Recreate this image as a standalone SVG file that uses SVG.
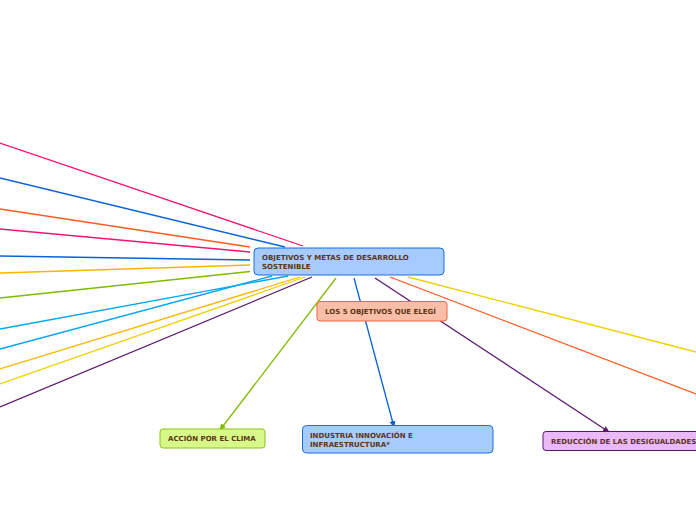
<svg xmlns="http://www.w3.org/2000/svg" width="696" height="520" viewBox="0 0 696 520">
<style>
.c{fill:none;stroke-width:1.3}
.t{font-family:"DejaVu Sans","Verdana",sans-serif;font-weight:bold;font-size:7px;fill:#5c3512}
</style>
<defs>
<marker id="ag" markerWidth="7" markerHeight="7" refX="6" refY="3.5" orient="auto" markerUnits="userSpaceOnUse"><path d="M0,0.5 L7,3.5 L0,6.5 z" fill="#7fba00"/></marker>
<marker id="ab" markerWidth="7" markerHeight="7" refX="6" refY="3.5" orient="auto" markerUnits="userSpaceOnUse"><path d="M0,0.5 L7,3.5 L0,6.5 z" fill="#0a62d6"/></marker>
<marker id="ap" markerWidth="7" markerHeight="7" refX="6" refY="3.5" orient="auto" markerUnits="userSpaceOnUse"><path d="M0,0.5 L7,3.5 L0,6.5 z" fill="#5a1670"/></marker>
</defs>
<rect width="696" height="520" fill="#fff"/>
<g id="connectors">
<line class="c" x1="0" y1="143" x2="303" y2="246" stroke="#f5136f"/>
<line class="c" x1="0" y1="178" x2="285" y2="247" stroke="#0a62d6"/>
<line class="c" x1="0" y1="209" x2="250" y2="247" stroke="#ff5a1f"/>
<line class="c" x1="0" y1="229" x2="250" y2="252" stroke="#f5136f"/>
<line class="c" x1="0" y1="256" x2="250" y2="260" stroke="#0a62d6"/>
<line class="c" x1="0" y1="273" x2="250" y2="265" stroke="#ffb400"/>
<line class="c" x1="0" y1="298" x2="250" y2="271.5" stroke="#7fba00"/>
<line class="c" x1="0" y1="329" x2="288" y2="276" stroke="#00a8f0"/>
<line class="c" x1="0" y1="349" x2="272" y2="276" stroke="#00a8f0"/>
<line class="c" x1="0" y1="369" x2="300" y2="277" stroke="#ffb400"/>
<line class="c" x1="0" y1="384" x2="305" y2="277" stroke="#f0d000"/>
<line class="c" x1="0" y1="407" x2="312" y2="277" stroke="#5a1670"/>
<line class="c" x1="408" y1="277" x2="696" y2="352" stroke="#f0d000"/>
<line class="c" x1="390" y1="277" x2="696" y2="394" stroke="#ff5a1f"/>
<line class="c" x1="375" y1="278" x2="609" y2="432" stroke="#5a1670" marker-end="url(#ap)"/>
<line class="c" x1="336" y1="278" x2="220" y2="430" stroke="#7fba00" marker-end="url(#ag)"/>
<line class="c" x1="354" y1="278" x2="394" y2="427" stroke="#0a62d6" marker-end="url(#ab)"/>
</g>
<g id="central">
<rect x="254" y="248" width="190" height="27" rx="4" fill="#a7cbfd" stroke="#1a6fde" stroke-width="1"/>
<text class="t" x="262" y="260">OBJETIVOS Y METAS DE DESARROLLO</text>
<text class="t" x="262" y="269">SOSTENIBLE</text>
</g>
<g id="elegi">
<rect x="317" y="301.5" width="130" height="19.5" rx="3" fill="#f9bea8" stroke="#f0643c" stroke-width="1"/>
<text class="t" x="325" y="314">LOS 5 OBJETIVOS QUE ELEGÍ</text>
</g>
<g id="clima">
<rect x="160" y="429" width="105" height="19" rx="3" fill="#d6f98a" stroke="#8cc21a" stroke-width="1"/>
<text class="t" x="168" y="441">ACCIÓN POR EL CLIMA</text>
</g>
<g id="industria">
<rect x="302.5" y="425.5" width="190.5" height="27.5" rx="4" fill="#a7cbfd" stroke="#1a6fde" stroke-width="1"/>
<text class="t" x="310" y="438">INDUSTRIA INNOVACIÓN E</text>
<text class="t" x="310" y="446.5">INFRAESTRUCTURA*</text>
</g>
<g id="desigualdades">
<rect x="543" y="431.5" width="170" height="19" rx="3" fill="#e9b9fa" stroke="#5a1670" stroke-width="1"/>
<text class="t" x="551" y="444">REDUCCIÓN DE LAS DESIGUALDADES</text>
</g>
</svg>
